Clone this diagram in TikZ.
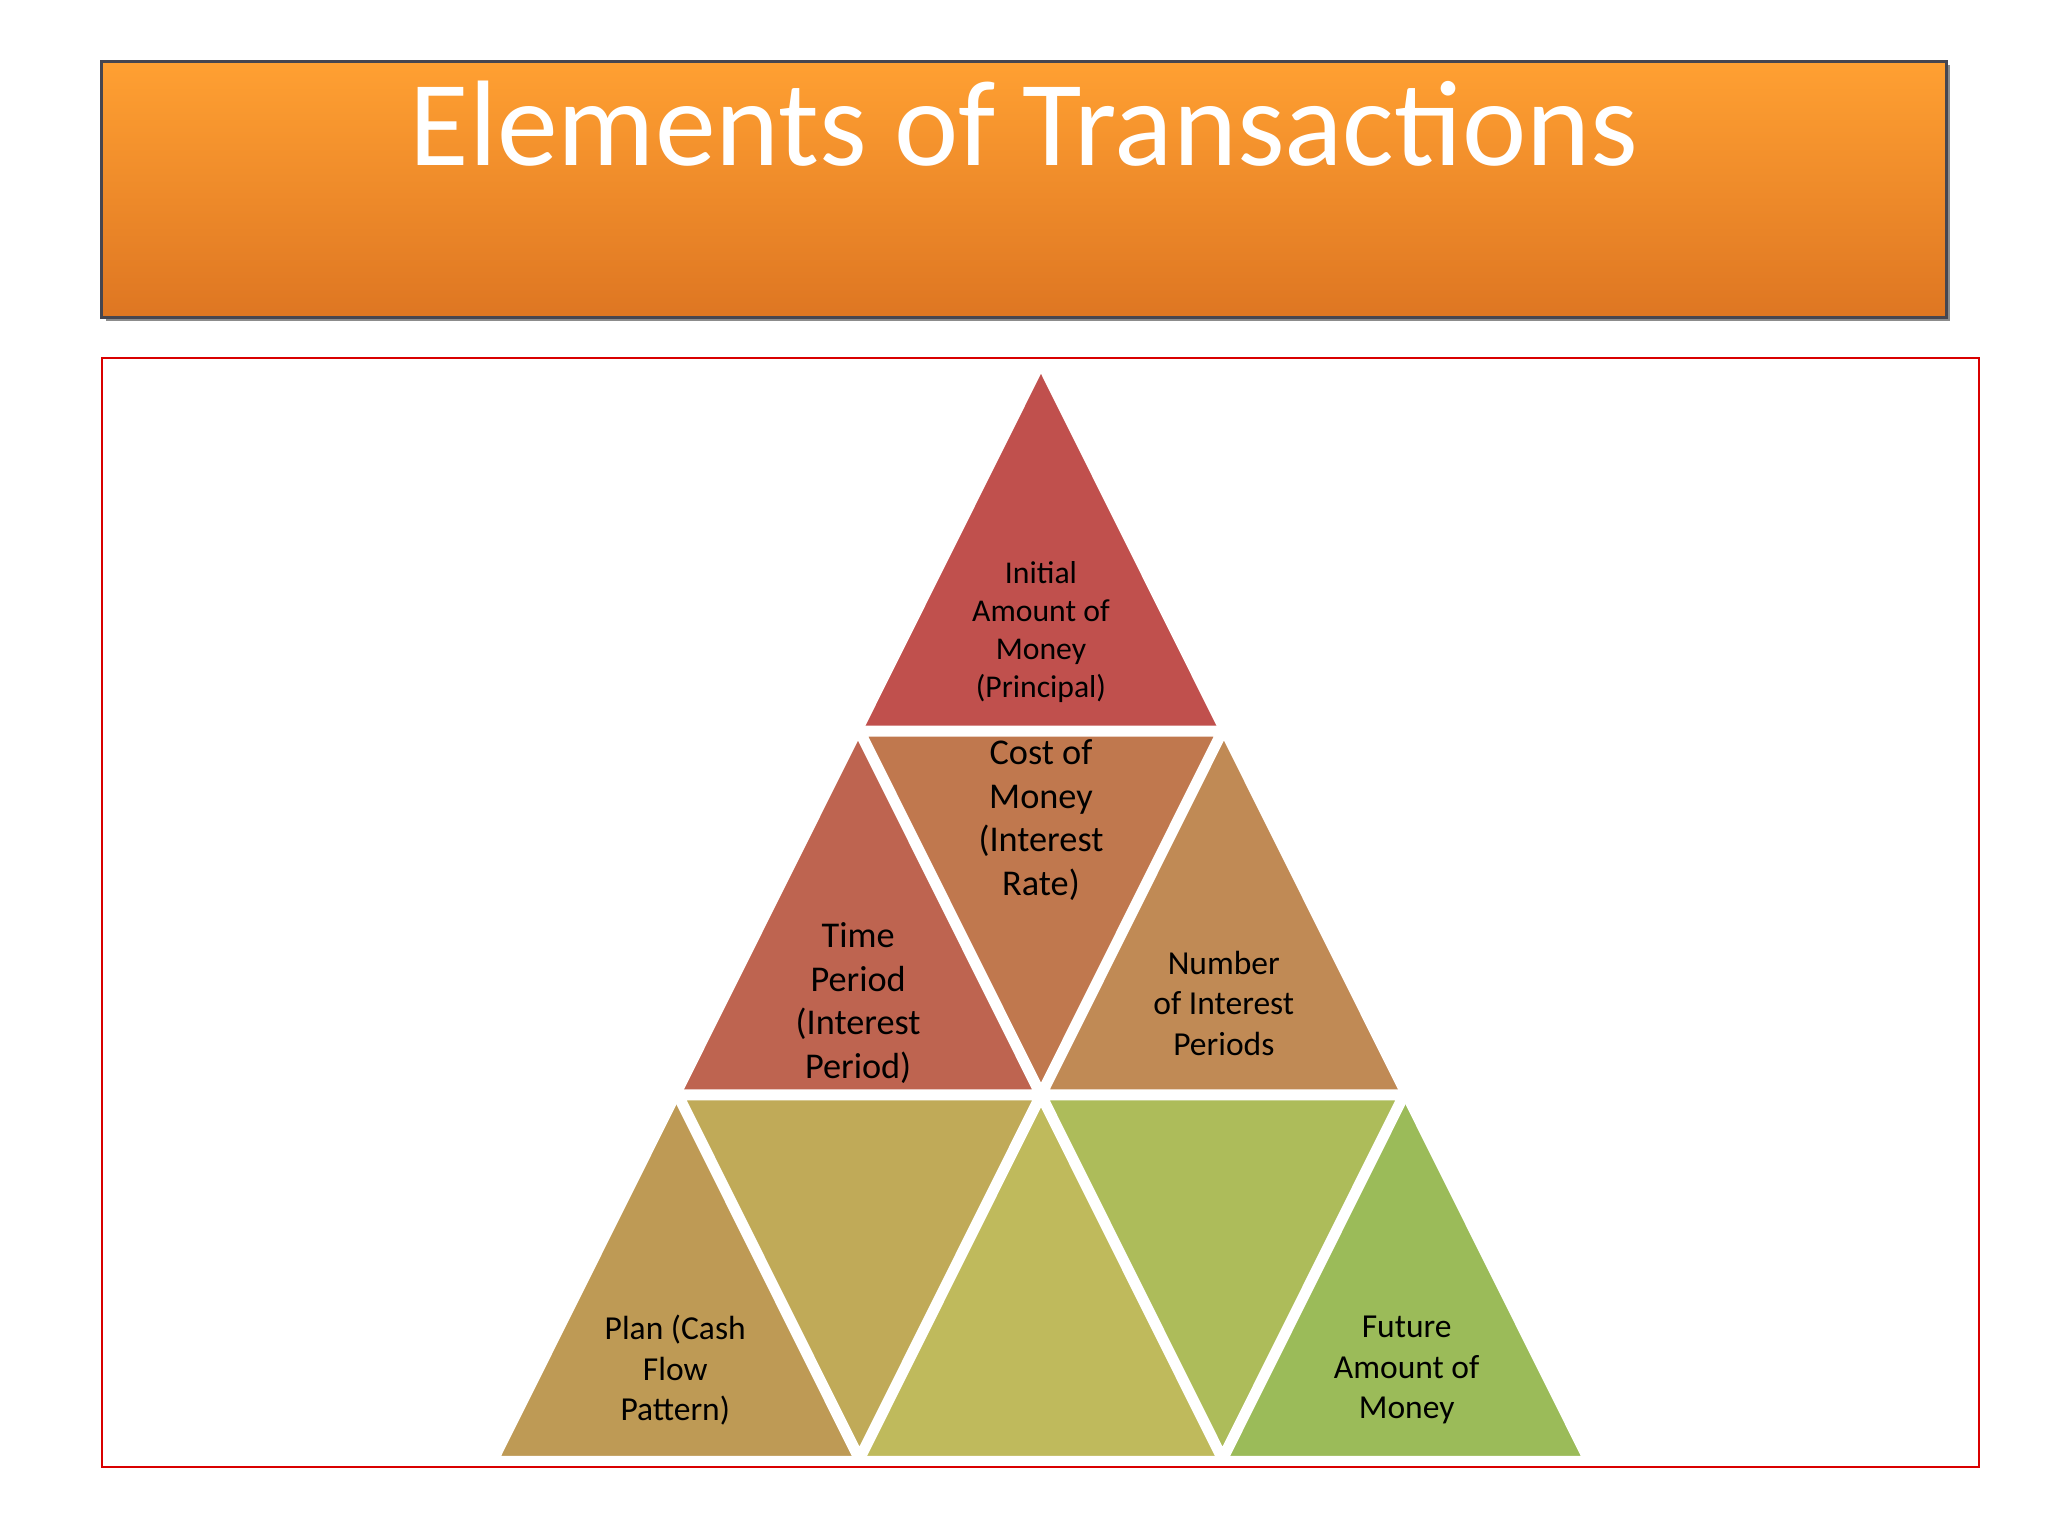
\documentclass[tikz,border=0pt]{standalone}
\usepackage{fontspec}
\setmainfont{Carlito}
\begin{document}
\begin{tikzpicture}[x=0.01cm,y=-0.01cm,
  tri/.style={draw=white,line width=1.3pt,line join=miter},
  lbl/.style={align=center,text=black,inner sep=0pt}]
\useasboundingbox (0,0) rectangle (1568,1176);
% banner
\fill[black!45] (81,50) rectangle (1493,246);
\shade[top color={rgb,255:red,255;green,160;blue,50},bottom color={rgb,255:red,222;green,118;blue,34},draw={rgb,255:red,70;green,70;blue,80},line width=0.6pt] (78,47) rectangle (1490,243);
\node[text=white,font=\fontsize{26.5}{30}\selectfont,inner sep=0pt] (title) at (784,95) {Elements of Transactions};
% frame
\draw[red!85!black,line width=0.5pt] (78,274) rectangle (1515,1123);
% coordinates
\coordinate (a) at (797,281);
\coordinate (b1) at (658,559.7); \coordinate (b2) at (936,559.7);
\coordinate (c1) at (519,838.3); \coordinate (c2) at (797,838.3); \coordinate (c3) at (1075,838.3);
\coordinate (d1) at (380,1117); \coordinate (d2) at (658,1117); \coordinate (d3) at (936,1117); \coordinate (d4) at (1214,1117);
\definecolor{t1}{RGB}{192,80,77}
\definecolor{t2}{RGB}{190,100,80}
\definecolor{t3}{RGB}{192,120,78}
\definecolor{t4}{RGB}{192,138,85}
\definecolor{t5}{RGB}{190,154,85}
\definecolor{t6}{RGB}{192,170,88}
\definecolor{t7}{RGB}{191,186,92}
\definecolor{t8}{RGB}{173,188,90}
\definecolor{t9}{RGB}{155,187,89}
\filldraw[tri,fill=t1] (a)--(b1)--(b2)--cycle;
\filldraw[tri,fill=t2] (b1)--(c1)--(c2)--cycle;
\filldraw[tri,fill=t3] (b1)--(b2)--(c2)--cycle;
\filldraw[tri,fill=t4] (b2)--(c2)--(c3)--cycle;
\filldraw[tri,fill=t5] (c1)--(d1)--(d2)--cycle;
\filldraw[tri,fill=t6] (c1)--(c2)--(d2)--cycle;
\filldraw[tri,fill=t7] (c2)--(d2)--(d3)--cycle;
\filldraw[tri,fill=t8] (c2)--(c3)--(d3)--cycle;
\filldraw[tri,fill=t9] (c3)--(d3)--(d4)--cycle;
\draw[white,line width=2.4pt] (b1)--(b2) (c1)--(c3) (b1)--(d3) (b2)--(d2) (c1)--(d2) (c3)--(d3);
% labels
\node[lbl,font=\fontsize{6.9}{8.25}\selectfont] (n1) at (797,484) {Initial\\Amount of\\Money\\(Principal)};
\node[lbl,font=\fontsize{7.9}{9.5}\selectfont] (n2) at (797,628) {Cost of\\Money\\(Interest\\Rate)};
\node[lbl,font=\fontsize{7.9}{9.5}\selectfont] (n3) at (657,768) {Time\\Period\\(Interest\\Period)};
\node[lbl,font=\fontsize{7.3}{8.8}\selectfont] (n4) at (937,768) {Number\\of Interest\\Periods};
\node[lbl,font=\fontsize{7.3}{8.8}\selectfont] (n5) at (517,1049) {Plan (Cash\\Flow\\Pattern)};
\node[lbl,font=\fontsize{7.3}{8.8}\selectfont] (n6) at (1077,1049) {Future\\Amount of\\Money};
\end{tikzpicture}
\end{document}
